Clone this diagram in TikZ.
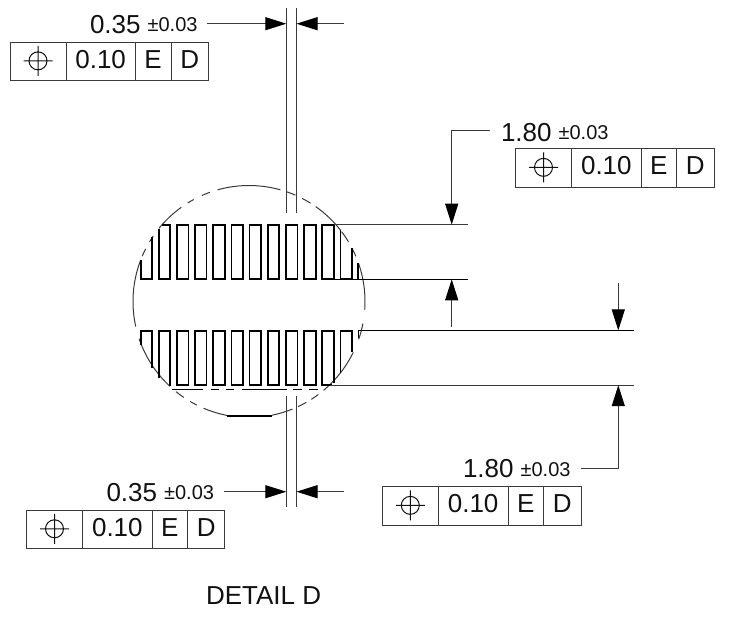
\documentclass[tikz,border=0pt]{standalone}
\usepackage{fontspec}
\setmainfont{Liberation Sans}
\usetikzlibrary{arrows.meta}
\definecolor{ink}{HTML}{111111}
\definecolor{linegray}{HTML}{3A3A3A}
\newcommand{\bigf}{\fontsize{26}{30}\selectfont}
\newcommand{\smallf}{\fontsize{20}{23}\selectfont}
\newcommand{\dimtext}[1]{{\bigf #1}\hspace{7pt}\raisebox{1.5pt}{\smallf ±0.03}}
\tikzset{
  thinline/.style={draw=linegray,line width=1pt},
  arcline/.style={draw=linegray,line width=1pt},
  pinline/.style={draw=black,line width=1.7pt,line join=miter},
  dimarrow/.style={thinline,-{Triangle[length=21pt,width=13pt,sep=0pt,color=black,fill=black]}},
  txt/.style={text=ink,inner sep=0pt,outer sep=0pt},
  fcfcell/.style={txt,font=\bigf,anchor=base},
}
% name, x0 x1 x2 x3 x4, top, bottom
\newcommand{\fcfbox}[8]{%
  \draw[thinline] (#2,#7) rectangle (#6,#8);
  \draw[thinline] (#3,#7) -- (#3,#8) (#4,#7) -- (#4,#8) (#5,#7) -- (#5,#8);
  \pgfmathsetmacro{\sx}{(#2+#3)/2}
  \pgfmathsetmacro{\sy}{(#7+#8)/2-0.5}
  \pgfmathsetmacro{\by}{#7+26}
  \draw[thinline,draw=ink] (\sx,\sy) circle[radius=9pt] (\sx-14.5,\sy) -- (\sx+14.5,\sy) (\sx,\sy-15) -- (\sx,\sy+15);
  \node[fcfcell] (#1val) at ({(#3+#4)/2},\by) {0.10};
  \node[fcfcell] (#1e) at ({(#4+#5)/2},\by) {E};
  \node[fcfcell] (#1d) at ({(#5+#6)/2},\by) {D};
}
\begin{document}
\begin{tikzpicture}[x=1pt,y=-1pt]
\useasboundingbox[fill=white] (0,0) rectangle (732,619);
% broken detail circle
\foreach \a/\b in {159/192.5,198.7/227,231/235.8,239.6/243.3,247/259,281.5/292,295/299.6,302.5/306.7,310/334,341/349,356/379.4,382.9/387.4,391/397,398/414.9,417.9/422.7,426.4/430.9,434.3/465.7,469.7/474,478.4/481.9,485.7/500.8,505.7/509,513/517}
  \draw[arcline] plot[domain=\a:\b,samples=24,smooth,variable=\t] ({249+116*cos(\t)},{301.5-116*sin(\t)});
% upper row of leads
\draw[pinline] (161.7,224.7) -- (170.3,224.7) -- (170.3,279.3) -- (158.7,279.3) -- (158.7,228.5);
\foreach \i in {1,...,9}{
  \pgfmathsetmacro{\xa}{158.7+18.17*\i}
  \pgfmathsetmacro{\xb}{\xa+11.6}
  \draw[pinline] (\xa,224.7) rectangle (\xb,279.3);
}
\draw[pinline] (140.7,260) -- (140.7,279.3) -- (152.3,279.3) -- (152.3,236.7);
\draw[pinline] (340.4,230) -- (340.4,279.3) -- (352,279.3) -- (352,248);
\draw[pinline] (358.3,263) -- (358.3,279.3);
% lower row of leads
\foreach \i in {1,...,8}{
  \pgfmathsetmacro{\xa}{158.7+18.17*\i}
  \pgfmathsetmacro{\xb}{\xa+11.6}
  \draw[pinline] (\xa,330.7) rectangle (\xb,385.3);
}
\draw[pinline] (140.7,345) -- (140.7,330.7) -- (152.3,330.7) -- (152.3,368);
\draw[pinline] (158.7,378) -- (158.7,330.7) -- (170.3,330.7) -- (170.3,386);
\draw[pinline] (332,385.3) -- (322.2,385.3) -- (322.2,330.7) -- (333.8,330.7) -- (333.8,383);
\draw[pinline] (340.4,373) -- (340.4,330.7) -- (352,330.7) -- (352,352);
\draw[pinline] (358.5,338) -- (358.5,330.7);
% broken edge lines
\foreach \a/\b in {171.7/203.3,210.7/219.3,226/234.3,241.7/286.7,293.3/302.3,309/318.3}
  \draw[pinline] (\a,389.5) -- (\b,389.5);
\draw[pinline] (226.7,416.3) -- (272.3,416.3);
% extension lines
\draw[thinline] (334,224.7) -- (467.7,224.7);
\draw[thinline,draw=black] (334,279.3) -- (467.7,279.3);
\draw[thinline,draw=black] (358,330.4) -- (634,330.4);
\draw[thinline] (330,385.2) -- (634,385.2);
\draw[thinline] (286.3,8.3) -- (286.3,213.3) (296.5,8.3) -- (296.5,213.3);
\draw[thinline] (286.3,396) -- (286.3,506.7) (296.5,396) -- (296.5,506.7);
% dimension arrows
\draw[dimarrow] (207.3,23.7) -- (286.3,23.7);
\draw[dimarrow] (344.3,23.7) -- (296.5,23.7);
\draw[dimarrow] (224,491.7) -- (286.3,491.7);
\draw[dimarrow] (344.3,491.7) -- (296.5,491.7);
\draw[dimarrow] (490,130) -- (451.7,130) -- (451.7,224.7);
\draw[dimarrow] (451.7,326.7) -- (451.7,279.3);
\draw[dimarrow] (618.3,283.3) -- (618.3,330.4);
\draw[dimarrow] (580.7,468) -- (618.3,468) -- (618.3,385.2);
% dimension texts
\node[txt,anchor=base west] (dimtop) at (90,33) {\dimtext{0.35}};
\node[txt,anchor=base west] (dimright) at (501,141) {\dimtext{1.80}};
\node[txt,anchor=base west] (dimlowright) at (463,477.5) {\dimtext{1.80}};
\node[txt,anchor=base west] (dimlowleft) at (106.5,501.3) {\dimtext{0.35}};
\node[txt,anchor=base west,font=\bigf] (title) at (206,604.5) {DETAIL D};
% feature control frames
\fcfbox{fa}{10}{66}{135.3}{171}{208.3}{42.7}{80}
\fcfbox{fb}{515.3}{571.7}{641}{676.7}{714}{148.7}{187}
\fcfbox{fc}{382.3}{438.3}{508}{543.7}{581}{486.7}{525}
\fcfbox{fd}{26.3}{82.7}{152}{187.7}{224.7}{510.3}{548.3}
\end{tikzpicture}
\end{document}
